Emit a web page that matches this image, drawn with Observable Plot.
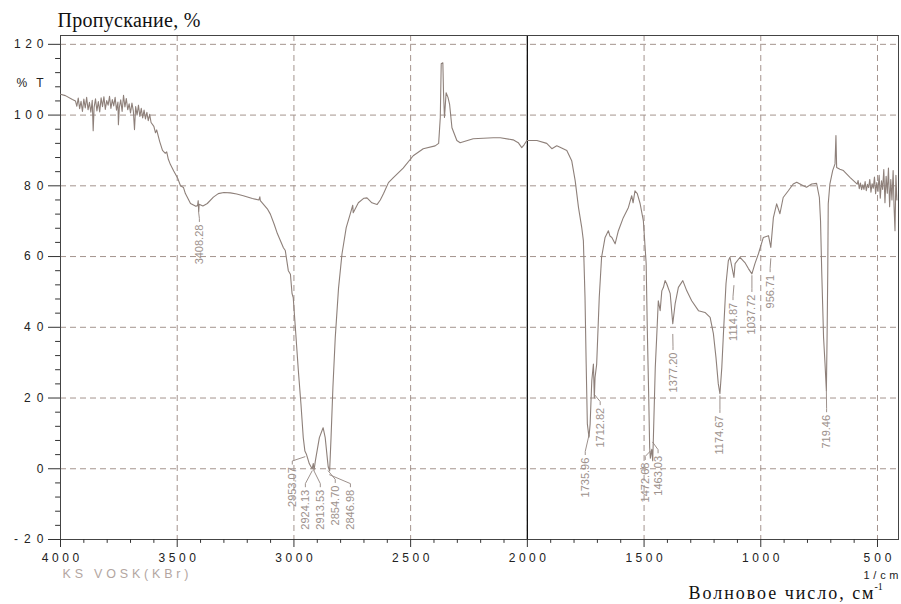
<!DOCTYPE html>
<html>
<head>
<meta charset="utf-8">
<script src="https://cdn.jsdelivr.net/npm/d3@7"></script>
<script src="https://cdn.jsdelivr.net/npm/@observablehq/plot@0.6"></script>
<style>
  body { margin: 0; background: #fff; }
  #chart svg { overflow: visible; }
</style>
</head>
<body>
<div id="chart"></div>
<script>
// IR spectrum: [wavenumber cm-1, transmittance %]
const spectrum = [
  [4000,105.9],[3979,105.5],[3949,104.4],
  [3936,104.0],[3930,102.5],[3924,104.8],[3918,101.8],[3912,103.9],[3906,101.0],[3900,104.5],[3894,102.0],
  [3888,105.0],[3882,101.5],[3876,103.6],[3870,100.8],[3864,104.2],[3860,95.6],[3856,102.2],[3850,104.6],
  [3844,101.2],[3838,103.8],[3832,100.9],[3826,104.9],[3820,102.4],[3814,105.2],[3808,101.6],[3802,104.1],
  [3796,102.8],[3790,105.3],[3784,101.9],[3778,104.4],[3772,102.6],[3766,105.0],[3760,101.4],[3754,103.7],
  [3752,97.3],[3748,102.1],[3742,104.3],[3736,101.0],[3730,105.6],[3724,102.3],[3718,104.7],[3712,101.5],
  [3706,103.2],[3700,100.6],[3694,103.4],[3688,101.2],[3683,95.9],[3678,102.4],[3672,100.0],[3666,102.8],
  [3660,99.6],[3654,101.9],[3648,99.2],[3642,101.4],[3636,98.9],[3630,100.8],[3624,98.4],[3618,100.2],[3612,97.9],
  [3600,96.8],[3593,95.0],[3588,95.8],[3575,92.5],[3563,90.0],[3551,89.2],[3545,89.6],[3538,87.5],[3529,86.0],
  [3515,84.2],[3499,82.3],[3486,80.0],[3473,79.5],[3465,77.8],[3443,75.0],[3420,74.2],[3413,74.4],[3410,75.8],
  [3408,72.6],[3406,74.8],[3390,74.3],[3371,75.0],[3345,76.8],[3324,77.8],[3300,78.1],[3272,78.0],[3245,77.7],
  [3217,77.2],[3178,76.4],[3150,76.0],[3146,76.9],[3144,75.8],[3114,73.5],[3101,72.0],[3085,69.2],[3071,66.5],
  [3045,62.5],[3037,61.7],[3024,56.0],[3015,55.0],[3008,49.5],[3003,48.4],[2994,40.0],[2981,27.7],[2970,18.4],
  [2960,8.8],[2953,5.0],[2947,4.2],[2934,1.4],[2922,0.0],[2917,1.5],[2914,-0.5],[2908,2.3],[2891,8.8],[2875,11.6],
  [2866,8.8],[2856,2.3],[2853,0.5],[2847,-0.6],[2841,8.8],[2833,23.0],[2823,37.0],[2809,51.0],[2794,60.8],
  [2776,68.2],[2759,72.0],[2748,74.5],[2746,72.4],[2724,75.2],[2700,76.5],[2687,76.6],[2666,75.2],[2644,74.7],
  [2630,76.0],[2616,77.8],[2595,80.9],[2574,82.3],[2532,85.0],[2489,88.5],[2446,90.5],[2395,91.3],[2380,92.0],
  [2373,99.3],[2369,114.5],[2362,114.8],[2359,106.0],[2355,99.3],[2348,106.3],[2340,105.0],[2333,103.0],
  [2323,96.4],[2302,92.8],[2288,92.2],[2232,93.3],[2146,93.6],[2116,93.6],[2061,93.0],[2039,92.2],[2024,90.8],
  [2014,91.6],[2002,92.8],[1959,92.8],[1917,92.0],[1895,90.5],[1874,91.3],[1860,90.9],[1831,90.0],[1810,87.1],
  [1795,81.4],[1781,73.9],[1767,68.2],[1760,64.5],[1753,48.4],[1748,29.6],[1743,12.7],[1736,8.9],[1731,12.7],
  [1724,24.9],[1717,29.6],[1713,20.0],[1710,25.8],[1703,29.6],[1692,48.4],[1682,59.8],[1667,65.4],[1653,67.3],
  [1646,65.8],[1638,65.4],[1624,63.6],[1610,67.3],[1589,71.0],[1567,73.9],[1553,77.2],[1547,75.2],[1539,78.6],
  [1529,77.8],[1517,75.0],[1503,70.1],[1491,58.0],[1486,39.0],[1480,20.2],[1476,6.0],[1473,3.0],[1467,5.5],
  [1463,2.3],[1460,8.9],[1452,28.6],[1446,37.1],[1439,47.5],[1431,44.7],[1424,50.3],[1417,51.3],[1410,53.2],
  [1403,52.3],[1388,49.5],[1377,41.0],[1367,46.6],[1353,51.3],[1334,53.2],[1317,50.3],[1296,47.5],[1267,44.7],
  [1239,44.2],[1217,42.8],[1203,38.2],[1192,31.5],[1182,24.0],[1175,21.2],[1167,28.6],[1160,38.2],[1149,52.3],
  [1139,58.8],[1132,59.8],[1115,54.1],[1110,58.0],[1089,59.8],[1068,58.3],[1053,56.6],[1038,55.1],[1025,58.0],
  [1010,60.8],[989,65.4],[967,65.9],[957,62.6],[946,71.0],[932,74.9],[918,72.1],[904,76.7],[882,78.6],[861,80.5],
  [846,81.0],[818,80.0],[804,79.6],[782,80.5],[761,80.7],[749,76.7],[744,70.1],[739,56.0],[735,46.6],[731,37.1],
  [725,30.0],[719,22.1],[716,37.1],[713,56.0],[711,74.9],[704,80.5],[692,84.3],[682,86.2],[678,94.2],[675,85.2],
  [661,84.7],[646,84.3],[618,82.4],[587,80.5],
  [583,81.5],[578,79.2],[573,80.8],[568,78.9],[563,80.3],[558,79.0],[553,81.2],[548,78.6],[543,80.4],[538,79.5],
  [533,81.8],[528,78.2],[523,80.6],[518,79.3],[513,82.5],[508,77.8],[503,80.9],[498,78.4],[493,83.0],[488,76.5],
  [483,81.4],[478,79.0],[473,84.6],[468,75.2],[463,82.7],[458,77.9],[453,85.0],[448,74.1],[443,81.8],[438,76.0],
  [433,84.3],[429,74.0],[425,67.3],[421,83.0],[417,76.0]
];

// Peak annotations
const peakText   = ["3408.28","2953.07","2924.13","2913.53","2854.70","2846.98","1735.96","1712.82","1472.68","1463.03","1377.20","1174.67","1114.87","1037.72","956.71","719.46"];
const labelWn    = [3405,3007,2951,2887,2823,2758,1752,1688,1495,1440,1376,1175,1119,1038,960,718];
const labelTop   = [69.6,1.0,-5.4,-5.4,-4.2,-5.4,3.7,17.8,2.3,4.2,33.4,15.6,47.5,49.8,55.4,15.8];
const peakWn     = [3408,2953,2922,2914,2853,2847,1736,1713,1473,1463,1377,1175,1115,1038,957,719];
const peakT      = [72.4,3.4,-0.6,-0.6,-0.6,-1.7,9.5,21.0,5.0,7.5,38.0,20.6,51.8,54.6,59.4,22.0];

// Axis ticks
const xMajor = [4000,3500,3000,2500,2000,1500,1000,500];
const xMinor = [3900,3800,3700,3600,3400,3300,3200,3100,2900,2800,2700,2600,2400,2300,2200,2100,
                1900,1800,1700,1600,1400,1300,1200,1100,900,800,700,600];
const yMajor = [-20,0,20,40,60,80,100,120];
const yMinor = [-16,-12,-8,-4,4,8,12,16,24,28,32,36,44,48,52,56,64,68,72,76,84,88,92,96,104,108,112,116];

// Texts
const yTitle = "Пропускание, %";
const xTitle = "Волновое число, см";
const xTitleSup = "-1";
const unitText = "1/cm";
const sampleText = "KS VOSK(KBr)";
const pctText = "%T";

const lineColor = "#8e807a";
const gridColor = "#a4948e";
const labelColor = "#9d918c";
const serif = "'Liberation Serif', 'Times New Roman', serif";

const data = spectrum.map(([w, t]) => ({w, t}));
const labels = peakText.map((s, i) => ({s, x: labelWn[i], y: labelTop[i]}));
const leaders = peakText.flatMap((s, i) => [
  {k: i, x: labelWn[i], y: labelTop[i] + 0.3},
  {k: i, x: labelWn[i], y: labelTop[i] + 1.2},
  {k: i, x: peakWn[i], y: peakT[i]}
]);

const chart = Plot.plot({
  width: 901,
  height: 604,
  marginLeft: 60,
  marginRight: 3,
  marginTop: 35,
  marginBottom: 65,
  style: {fontFamily: "'Liberation Sans', Arial, sans-serif", color: "#333", background: "#fff"},
  x: {domain: [4000, 410]},
  y: {domain: [-20, 122.5]},
  marks: [
    Plot.gridX(xMajor, {stroke: gridColor, strokeOpacity: 1, strokeDasharray: "6,4"}),
    Plot.gridY(yMajor, {stroke: gridColor, strokeOpacity: 1, strokeDasharray: "6,4"}),
    Plot.ruleX([2000], {stroke: "#111", strokeWidth: 1.3}),
    Plot.frame({stroke: "#444"}),
    Plot.axisX(xMajor, {tickSize: 8, tickPadding: 6, fontSize: 12, tickFormat: d => String(d), label: null, stroke: "#333", fill: "#222"}),
    Plot.axisY(yMajor, {tickSize: 12, tickPadding: 5, fontSize: 12, tickFormat: d => String(d), label: null, stroke: "#333", fill: "#222"}),
    Plot.ruleX(xMinor, {y1: -20, y2: -21.1, stroke: "#333"}),
    Plot.ruleY(yMinor, {x1: 4000, x2: 4021, stroke: "#333"}),
    Plot.line(leaders, {x: "x", y: "y", z: "k", stroke: labelColor, strokeWidth: 1}),
    Plot.line(data, {x: "w", y: "t", stroke: lineColor, strokeWidth: 1.1}),
    Plot.text(labels, {x: "x", y: "y", text: "s", rotate: -90, textAnchor: "end", dy: 2, fontSize: 11,
      fill: labelColor, ariaLabel: "peak labels"}),
    Plot.text([{t: pctText, v: 109}], {y: "v", text: "t", frameAnchor: "left", lineAnchor: "middle", textAnchor: "end", dx: -17, fontSize: 12, fill: "#222"}),
    Plot.text([yTitle], {frameAnchor: "top-left", lineAnchor: "middle", textAnchor: "start", dx: -3, dy: -15,
      fontFamily: serif, fontSize: 20, fill: "#111"}),
    Plot.text([sampleText], {frameAnchor: "bottom-left", lineAnchor: "middle", textAnchor: "start", dx: 2, dy: 34,
      fontSize: 12.5, fill: "#b3a6a1"}),
    Plot.text([unitText], {frameAnchor: "bottom-right", lineAnchor: "middle", textAnchor: "end", dx: 0, dy: 36, fontSize: 11, fill: "#222"}),
    Plot.text([xTitle], {frameAnchor: "bottom-right", lineAnchor: "middle", textAnchor: "end", dx: -25, dy: 54,
      fontFamily: serif, fontSize: 18, fill: "#111"}),
    Plot.text([xTitleSup], {frameAnchor: "bottom-right", lineAnchor: "middle", textAnchor: "start", dx: -24, dy: 47,
      fontFamily: serif, fontSize: 10, fill: "#111"})
  ]
});

// Stretch spaced texts to the reference widths (letter spacing)
const widths = new Map([[yTitle, 143], [xTitle, 185], [unitText, 35], [sampleText, 126], [pctText, 27]]);
chart.querySelectorAll("text").forEach(el => {
  const g = el.parentNode;
  const al = (g && g.getAttribute && g.getAttribute("aria-label")) || "";
  const s = el.textContent;
  let len = null;
  if (al.startsWith("x-axis")) len = s.length * 9.6 - 1;
  else if (al.startsWith("y-axis") && s.length > 1) len = s.length * 10.2 - 1;
  else if (widths.has(s)) len = widths.get(s);
  if (len) {
    el.setAttribute("textLength", len);
    el.setAttribute("lengthAdjust", "spacing");
  }
});
document.getElementById("chart").appendChild(chart);
</script>
</body>
</html>
